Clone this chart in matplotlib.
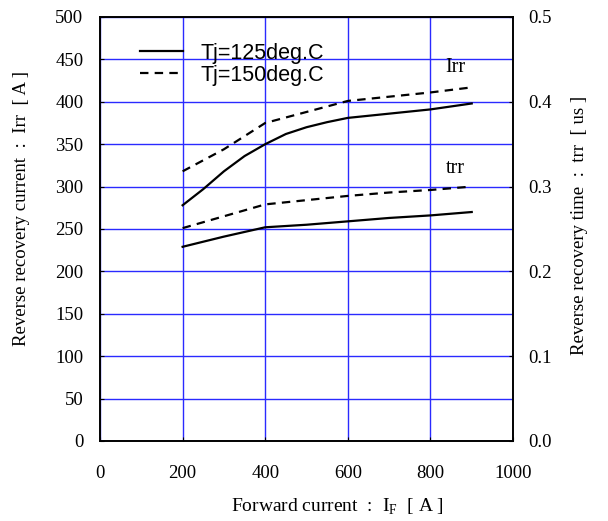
import matplotlib.pyplot as plt

plt.rcParams['font.family'] = 'Liberation Serif'
plt.rcParams['mathtext.fontset'] = 'custom'
plt.rcParams['mathtext.rm'] = 'Liberation Serif'

# === Data ===
if_irr = [200, 250, 300, 350, 400, 450, 500, 550, 600, 700, 800, 900]
irr_125 = [278, 297, 318, 336, 350, 362, 370, 376, 381, 386, 391, 398]
if_irr_150 = [200, 300, 400, 500, 600, 700, 800, 900]
irr_150 = [318, 344, 375, 388, 401, 406, 411, 417]

if_trr = [200, 300, 400, 500, 600, 700, 800, 900]
trr_125 = [0.229, 0.241, 0.252, 0.255, 0.259, 0.263, 0.266, 0.270]
trr_150 = [0.251, 0.265, 0.279, 0.284, 0.289, 0.293, 0.296, 0.300]

x_ticks = [0, 200, 400, 600, 800, 1000]
y_ticks = list(range(0, 501, 50))
y2_ticks = [0.0, 0.1, 0.2, 0.3, 0.4, 0.5]

fig, ax = plt.subplots(figsize=(6.08, 5.21), dpi=100)
fig.subplots_adjust(left=0.1645, right=0.8438, top=0.9674, bottom=0.1536)

grid_color = '#2a2aff'
ax.grid(True, color=grid_color, linewidth=1.0)
ax.set_axisbelow(True)

dash = (0, (3.8, 2.8))
ax.plot(if_irr, irr_125, color='black', linewidth=1.6, label='Tj=125deg.C')
ax.plot(if_irr_150, irr_150, color='black', linewidth=1.6, linestyle=dash, label='Tj=150deg.C')

ax.set_xlim(0, 1000)
ax.set_ylim(0, 500)
ax.set_xticks(x_ticks)
ax.set_yticks(y_ticks)
ax.tick_params(axis='y', direction='in', length=3, labelsize=13.5, pad=12)
ax.tick_params(axis='x', direction='in', length=3, labelsize=13.5, pad=17)

ax2 = ax.twinx()
ax2.plot(if_trr, trr_125, color='black', linewidth=1.6)
ax2.plot(if_trr, trr_150, color='black', linewidth=1.6, linestyle=dash)
ax2.set_ylim(0, 0.5)
ax2.set_yticks(y2_ticks)
ax2.set_yticklabels([f'{v:.1f}' for v in y2_ticks])
ax2.tick_params(direction='in', length=3, labelsize=13.5, pad=11)

for a in (ax, ax2):
    for s in a.spines.values():
        s.set_linewidth(1.2)

lab = dict(fontsize=13.5, ha='center', va='center')
fig.text(337 / 608, 1 - 507 / 521, 'Forward current  :  I$_{\\mathrm{F}}$  [ A ]',
         fontsize=14, ha='center', va='center')
fig.text(22 / 608, 1 - 209 / 521, 'Reverse recovery current  :  Irr  [ A ]', rotation=90, **lab)
fig.text(580 / 608, 1 - 225 / 521, 'Reverse recovery time  :  trr  [ us ]', rotation=90, **lab)

ax.text(860, 441, 'Irr', fontsize=14.5, ha='center', va='center')
ax.text(860, 321, 'trr', fontsize=14.5, ha='center', va='center')

ax.legend(loc='center left', bbox_to_anchor=(0.097, 0.889), frameon=False,
          prop={'family': 'Liberation Sans', 'size': 15.5},
          handlelength=2.0, handletextpad=0.8, labelspacing=0.05,
          borderpad=0, borderaxespad=0)

fig.savefig('out.png', dpi=100)
